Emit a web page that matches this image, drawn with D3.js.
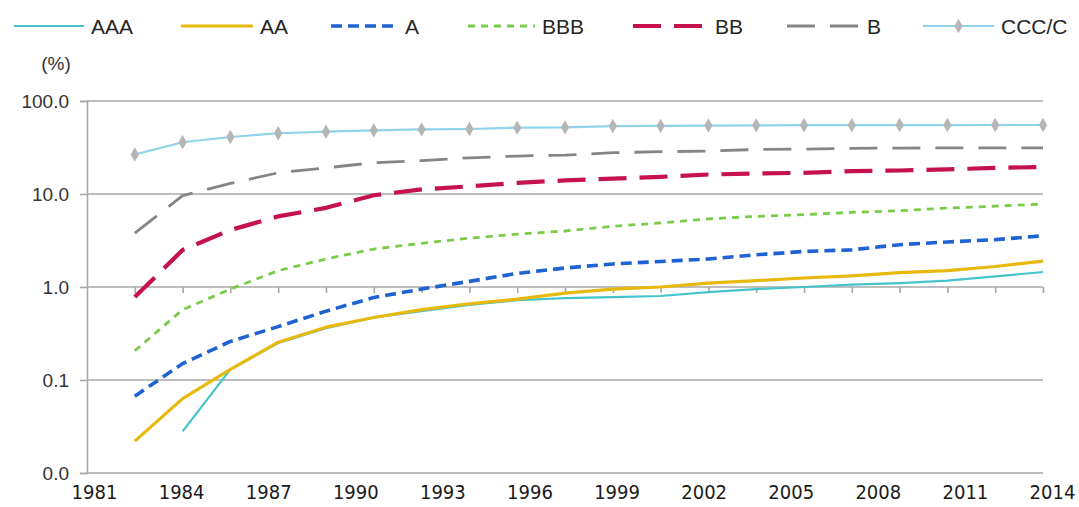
<!DOCTYPE html>
<html>
<head>
<meta charset="utf-8">
<script src="https://cdn.jsdelivr.net/npm/d3@7/dist/d3.min.js"></script>
<style>
  html, body { margin: 0; padding: 0; background: #ffffff; }
  svg { display: block; }
  .legend text { font-family: "Liberation Sans", Arial, sans-serif; font-size: 21px; fill: #262626; }
  .yaxis text { font-family: "Liberation Sans", Arial, sans-serif; font-size: 19px; fill: #333333; }
  .years text { font-family: "DejaVu Sans Condensed", "DejaVu Sans", sans-serif; font-stretch: condensed; font-size: 20px; fill: #1a1a1a; }
</style>
</head>
<body>
<svg id="chart" width="1079" height="507"></svg>
<script>
// Cumulative default rates (%) by rating, one point per horizon step
const horizons = [1, 2, 3, 4, 5, 6, 7, 8, 9, 10, 11, 12, 13, 14, 15, 16, 17, 18, 19, 20];
const seriesNames = ["AAA", "AA", "A", "BBB", "BB", "B", "CCC/C"];

const aaa  = [null, 0.028, 0.13, 0.25, 0.36, 0.47, 0.55, 0.64, 0.72, 0.76, 0.78, 0.80, 0.88, 0.95, 1.0, 1.06, 1.1, 1.17, 1.3, 1.45];
const aa   = [0.022, 0.063, 0.13, 0.255, 0.37, 0.47, 0.57, 0.66, 0.74, 0.86, 0.95, 1.0, 1.1, 1.17, 1.25, 1.32, 1.43, 1.5, 1.66, 1.9];
const a    = [0.067, 0.15, 0.26, 0.375, 0.55, 0.77, 0.95, 1.15, 1.4, 1.6, 1.77, 1.88, 2.0, 2.22, 2.41, 2.51, 2.85, 3.05, 3.23, 3.55];
const bbb  = [0.206, 0.57, 0.95, 1.5, 2.0, 2.56, 2.95, 3.35, 3.7, 4.0, 4.5, 4.88, 5.4, 5.75, 6.0, 6.35, 6.6, 7.07, 7.4, 7.8];
const bb   = [0.78, 2.5, 4.1, 5.75, 7.1, 9.7, 11.2, 12.1, 13.2, 14.0, 14.6, 15.3, 16.2, 16.6, 16.9, 17.6, 17.9, 18.4, 19.1, 19.5];
const b    = [3.8, 9.6, 13.0, 16.9, 19.1, 21.7, 22.9, 24.5, 25.6, 26.2, 27.8, 28.5, 28.9, 30.1, 30.4, 31.0, 31.2, 31.3, 31.3, 31.4];
const ccc  = [26.6, 36, 41, 45, 46.8, 48.3, 49.5, 50, 51.6, 52, 53.8, 54, 54.4, 54.7, 54.9, 55.0, 55.1, 55.1, 55.2, 55.2];

const yTicks = [0.01, 0.1, 1, 10, 100];
const yearTicks = [1981, 1984, 1987, 1990, 1993, 1996, 1999, 2002, 2005, 2008, 2011, 2014];

// Visual style of each series
const styles = {
  "AAA":   { color: "#45c3cb", width: 2.2, dash: null },
  "AA":    { color: "#e7b90c", width: 3.2, dash: null },
  "A":     { color: "#1f62d2", width: 3.6, dash: "11,6" },
  "BBB":   { color: "#7acb4a", width: 2.8, dash: "7,6" },
  "BB":    { color: "#c6124c", width: 4.2, dash: "28,13" },
  "B":     { color: "#858585", width: 2.8, dash: "28,15" },
  "CCC/C": { color: "#8ed3ea", width: 2.2, dash: null, marker: "#b5b5b5" }
};

const values = [aaa, aa, a, bbb, bb, b, ccc];
const series = seriesNames.map((name, i) => ({
  name,
  points: horizons.map((h, j) => ({ h, v: values[i][j] }))
}));

const svg = d3.select("#chart");
const plotLeft = 87, plotRight = 1043, plotTop = 101, plotBottom = 473;

const x = d3.scaleLinear().domain([0, 20]).range([plotLeft, plotRight]);
const y = d3.scaleLog().domain([0.01, 100]).range([plotBottom, plotTop]);
const xYear = d3.scaleLinear().domain([1981, 2014]).range([94, 1052]);

const gridColor = "#a8a8a8";

// Horizontal gridlines at each decade
svg.append("g")
  .selectAll("line")
  .data(yTicks)
  .join("line")
  .attr("x1", plotLeft).attr("x2", plotRight)
  .attr("y1", d => y(d)).attr("y2", d => y(d))
  .attr("stroke", gridColor)
  .attr("stroke-width", 1.6);

// Vertical value axis with outward ticks
const yAxis = d3.axisLeft(y)
  .tickValues(yTicks)
  .tickFormat(d3.format(".1f"))
  .tickSize(7)
  .tickPadding(11);
const gy = svg.append("g").attr("class", "yaxis")
  .attr("transform", `translate(${plotLeft},0)`)
  .call(yAxis);
gy.select(".domain").attr("stroke", gridColor).attr("stroke-width", 1.6);
gy.selectAll(".tick line").attr("stroke", gridColor).attr("stroke-width", 1.6);

// Category axis crossing at 1.0, with tick marks hanging below
const xAxis = d3.axisBottom(x)
  .tickValues(horizons)
  .tickSize(6)
  .tickFormat("");
const gx = svg.append("g")
  .attr("transform", `translate(0,${y(1)})`)
  .call(xAxis);
gx.select(".domain").remove();
gx.selectAll(".tick line").attr("stroke", gridColor).attr("stroke-width", 1.6);

// Year labels along the bottom
const yearAxis = d3.axisBottom(xYear)
  .tickValues(yearTicks)
  .tickFormat(d3.format("d"))
  .tickSize(0)
  .tickPadding(12);
const gYear = svg.append("g").attr("class", "years")
  .attr("transform", `translate(0,${plotBottom})`)
  .call(yearAxis);
gYear.select(".domain").remove();

// "(%)" unit label
svg.append("text")
  .attr("x", 56).attr("y", 70)
  .attr("text-anchor", "middle")
  .style("font-family", "Liberation Sans, Arial, sans-serif")
  .style("font-size", "19px")
  .style("fill", "#333333")
  .text("(%)");

// Series lines
const line = d3.line()
  .defined(d => d.v != null)
  .x(d => x(d.h))
  .y(d => y(d.v));

svg.append("g")
  .selectAll("path")
  .data(series)
  .join("path")
  .attr("d", d => line(d.points))
  .attr("fill", "none")
  .attr("stroke", d => styles[d.name].color)
  .attr("stroke-width", d => styles[d.name].width)
  .attr("stroke-dasharray", d => styles[d.name].dash)
  .attr("stroke-linejoin", "round");

// Diamond markers for CCC/C
const diamond = d3.symbol().type(d3.symbolDiamond).size(60);
svg.append("g")
  .selectAll("path")
  .data(series.find(s => s.name === "CCC/C").points)
  .join("path")
  .attr("transform", d => `translate(${x(d.h)},${y(d.v)})`)
  .attr("d", diamond)
  .attr("fill", styles["CCC/C"].marker);

// Legend
const legendItems = [
  { name: "AAA",   x1: 14,  x2: 84 },
  { name: "AA",    x1: 181, x2: 253 },
  { name: "A",     x1: 331, x2: 398 },
  { name: "BBB",   x1: 468, x2: 535 },
  { name: "BB",    x1: 633, x2: 708 },
  { name: "B",     x1: 787, x2: 860 },
  { name: "CCC/C", x1: 923, x2: 994 }
];
const lg = svg.append("g").attr("class", "legend");
const ly = 26;
legendItems.forEach(item => {
  const s = styles[item.name];
  lg.append("line")
    .attr("x1", item.x1).attr("x2", item.x2)
    .attr("y1", ly).attr("y2", ly)
    .attr("stroke", s.color)
    .attr("stroke-width", s.width)
    .attr("stroke-dasharray", s.dash);
  if (s.marker) {
    lg.append("path")
      .attr("transform", `translate(${(item.x1 + item.x2) / 2},${ly})`)
      .attr("d", diamond)
      .attr("fill", s.marker);
  }
  lg.append("text")
    .attr("x", item.x2 + 7)
    .attr("y", ly + 8)
    .text(item.name);
});
</script>
</body>
</html>
